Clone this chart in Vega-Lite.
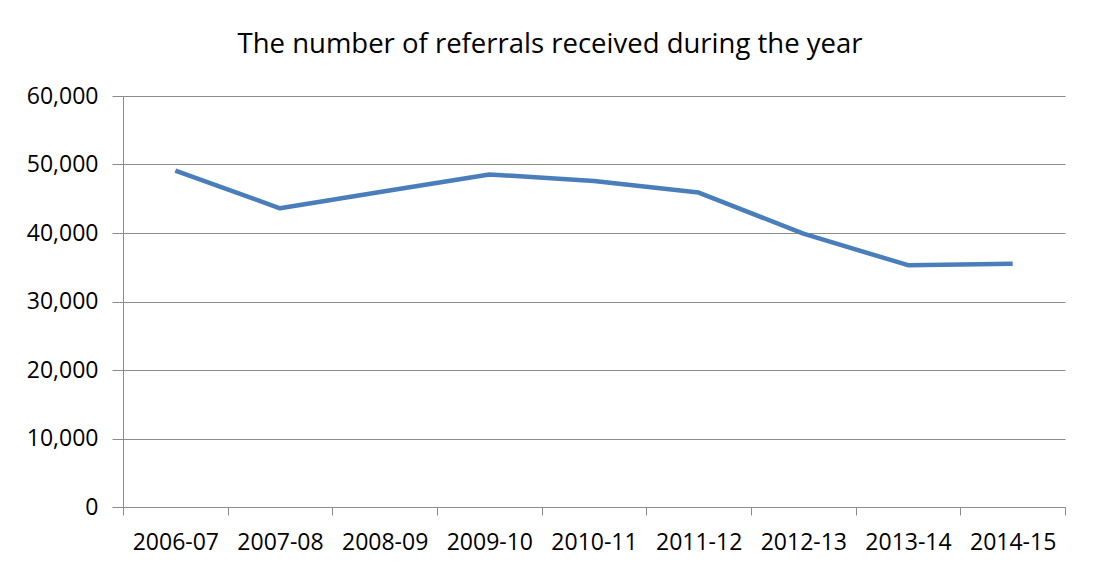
{
  "$schema": "https://vega.github.io/schema/vega-lite/v6.json",
  "width": 942,
  "height": 411,
  "autosize": {"type": "none"},
  "padding": {"left": 123, "top": 96, "right": 36, "bottom": 66},
  "background": "white",
  "title": {
    "text": "The number of referrals received during the year",
    "font": "Open Sans",
    "fontSize": 27.5,
    "fontWeight": "normal",
    "color": "#000000",
    "anchor": "middle",
    "frame": "group",
    "dx": -44,
    "baseline": "alphabetic",
    "offset": 5
  },
  "data": {
    "values": [
      {"year": "2006-07", "referrals": 49100},
      {"year": "2007-08", "referrals": 43600},
      {"year": "2008-09", "referrals": 46100},
      {"year": "2009-10", "referrals": 48550},
      {"year": "2010-11", "referrals": 47600},
      {"year": "2011-12", "referrals": 45900},
      {"year": "2012-13", "referrals": 39900},
      {"year": "2013-14", "referrals": 35300},
      {"year": "2014-15", "referrals": 35500}
    ]
  },
  "mark": {"type": "line", "color": "#4A7EBB", "strokeWidth": 4.5, "strokeJoin": "round", "strokeCap": "butt"},
  "encoding": {
    "x": {
      "field": "year",
      "type": "ordinal",
      "sort": null,
      "scale": {"type": "band", "paddingInner": 0, "paddingOuter": 0},
      "axis": {
        "title": null,
        "labelAngle": 0,
        "tickBand": "extent",
        "tickSize": 8,
        "labelPadding": 16,
        "domainColor": "#8C8C8C",
        "tickColor": "#8C8C8C",
        "labelFont": "Open Sans",
        "labelFontSize": 23,
        "labelColor": "#000000",
        "grid": false
      }
    },
    "y": {
      "field": "referrals",
      "type": "quantitative",
      "scale": {"domain": [0, 60000], "nice": false, "zero": true},
      "axis": {
        "title": null,
        "values": [0, 10000, 20000, 30000, 40000, 50000, 60000],
        "format": ",.0f",
        "tickSize": 11,
        "labelPadding": 14,
        "domainColor": "#8C8C8C",
        "tickColor": "#8C8C8C",
        "grid": true,
        "gridColor": "#8C8C8C",
        "gridOpacity": 1,
        "labelFont": "Open Sans",
        "labelFontSize": 23,
        "labelColor": "#000000"
      }
    }
  },
  "config": {"view": {"stroke": null}}
}
